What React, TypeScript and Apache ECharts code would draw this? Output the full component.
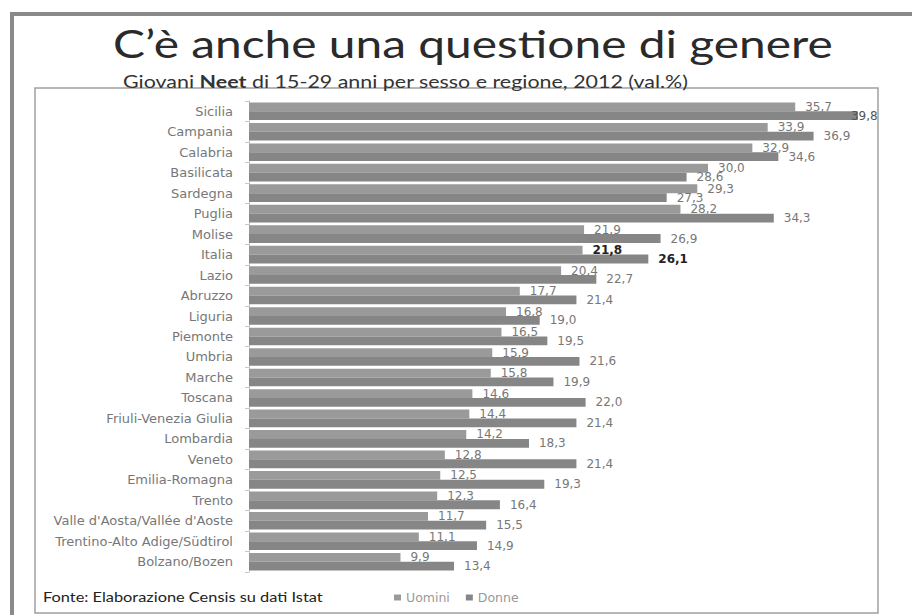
import React, { useEffect, useRef } from "react";
import * as echarts from "echarts";

const regions = [
  "Sicilia", "Campania", "Calabria", "Basilicata", "Sardegna", "Puglia", "Molise", "Italia",
  "Lazio", "Abruzzo", "Liguria", "Piemonte", "Umbria", "Marche", "Toscana",
  "Friuli-Venezia Giulia", "Lombardia", "Veneto", "Emilia-Romagna", "Trento",
  "Valle d'Aosta/Vallée d'Aoste", "Trentino-Alto Adige/Südtirol", "Bolzano/Bozen",
];
const uomini = [35.7, 33.9, 32.9, 30.0, 29.3, 28.2, 21.9, 21.8, 20.4, 17.7, 16.8, 16.5, 15.9, 15.8, 14.6, 14.4, 14.2, 12.8, 12.5, 12.3, 11.7, 11.1, 9.9];
const donne = [39.8, 36.9, 34.6, 28.6, 27.3, 34.3, 26.9, 26.1, 22.7, 21.4, 19.0, 19.5, 21.6, 19.9, 22.0, 21.4, 18.3, 21.4, 19.3, 16.4, 15.5, 14.9, 13.4];
const seriesNames = ["Uomini", "Donne"];

const fmt = (v: number) => v.toFixed(1).replace(".", ",");

export default function App() {
  const ref = useRef<HTMLDivElement>(null);
  useEffect(() => {
    if (!ref.current) return;
    const chart = echarts.init(ref.current, null, { renderer: "svg" });
    const mk = (vals: number[], isDonne: boolean) =>
      vals.map((v, i) => {
        const item: any = { value: v };
        if (regions[i] === "Italia") {
          item.label = { fontWeight: "bold", color: "#222" };
        }
        if (isDonne && i === 0) {
          item.label = { ...(item.label || {}), distance: -7, color: "#555" };
        }
        return item;
      });
    const labelBase = {
      show: true,
      position: "right",
      distance: 10,
      fontFamily: "DejaVu Sans",
      fontSize: 12,
      color: "#777",
      formatter: (p: any) => fmt(p.value),
    };
    chart.setOption({
      animation: false,
      backgroundColor: "#fff",
      grid: { left: 249, right: 51, top: 101, bottom: 43, containLabel: false },
      legend: {
        data: seriesNames,
        left: 389,
        top: 586,
        itemWidth: 7,
        itemHeight: 6,
        itemGap: 16,
        icon: "rect",
        textStyle: { fontFamily: "DejaVu Sans", fontSize: 12.5, color: "#999" },
      },
      xAxis: {
        type: "value",
        min: 0,
        max: 40,
        show: false,
        splitLine: { show: false },
      },
      yAxis: {
        type: "category",
        data: regions,
        inverse: true,
        axisLine: { show: true, lineStyle: { color: "#c8c8c8" } },
        axisTick: { show: true, length: 4, lineStyle: { color: "#c8c8c8" } },
        axisLabel: {
          fontFamily: "DejaVu Sans",
          fontSize: 13,
          color: "#777",
          margin: 16,
        },
      },
      series: [
        {
          name: seriesNames[0],
          type: "bar",
          data: mk(uomini, false),
          barWidth: 8.8,
          barGap: "0%",
          itemStyle: { color: "#9a9a9a" },
          label: labelBase,
        },
        {
          name: seriesNames[1],
          type: "bar",
          data: mk(donne, true),
          barWidth: 8.8,
          itemStyle: { color: "#868686" },
          label: labelBase,
        },
      ],
      graphic: [
        {
          type: "rect",
          shape: { x: 12, y: 14, width: 960, height: 700 },
          style: { fill: "none", stroke: "#8a8a8a", lineWidth: 4 },
          silent: true,
        },
        {
          type: "rect",
          shape: { x: 35, y: 88, width: 843, height: 525 },
          style: { fill: "none", stroke: "#a0a0a0", lineWidth: 1.5 },
          silent: true,
        },
        {
          type: "text",
          x: 113,
          y: 24,
          scaleX: 1.26,
          style: {
            text: "C’è anche una questione di genere",
            font: "38px Lato",
            fill: "#2a2a2a",
            textAlign: "left",
            textVerticalAlign: "top",
          },
        },
        {
          type: "text",
          x: 123,
          y: 73,
          scaleX: 1.26,
          style: {
            text: "Giovani {b|Neet} di 15-29 anni per sesso e regione, 2012 (val.%)",
            font: "17px Lato",
            fill: "#333",
            textAlign: "left",
            textVerticalAlign: "top",
            rich: { b: { fontFamily: "Lato", fontSize: 17, fontWeight: "bold", fill: "#333" } },
          },
        },
        {
          type: "text",
          x: 43,
          y: 590,
          scaleX: 1.26,
          style: {
            text: "Fonte: Elaborazione Censis su dati Istat",
            font: "13px Lato",
            fill: "#222",
            textAlign: "left",
            textVerticalAlign: "top",
          },
        },
      ],
    });
    return () => chart.dispose();
  }, []);
  return (
    <div
      ref={ref}
      style={{ position: "fixed", left: 0, top: 0, width: 912, height: 615, background: "#fff" }}
    />
  );
}
